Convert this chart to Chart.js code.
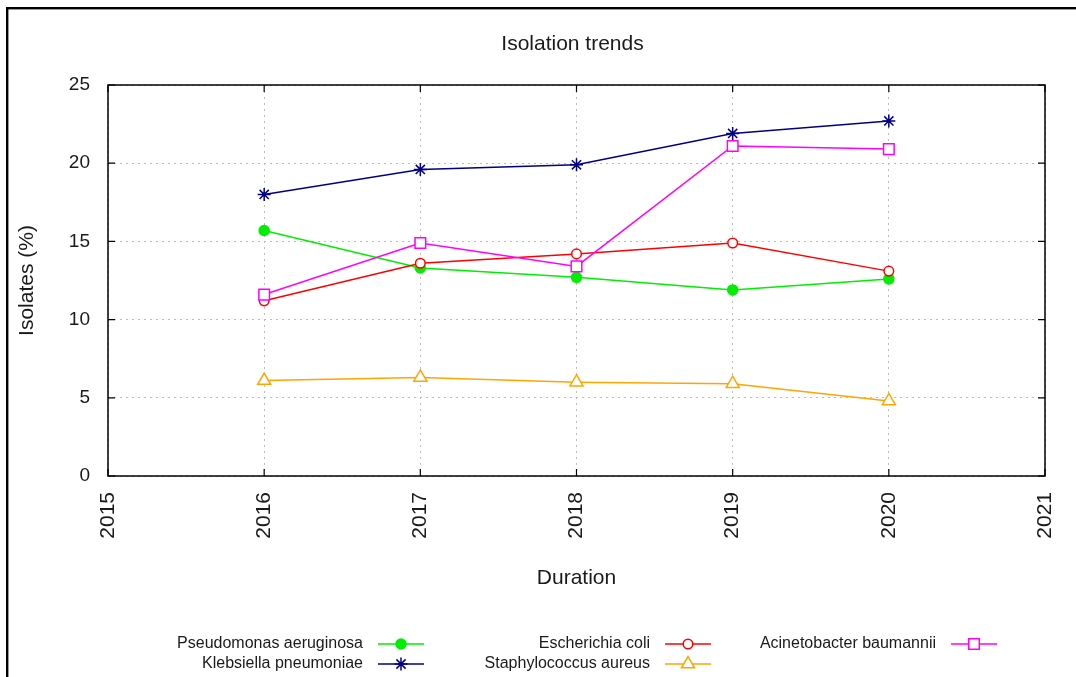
<!DOCTYPE html>
<html>
<head>
<meta charset="utf-8">
<script src="https://cdn.jsdelivr.net/npm/chart.js@4.4.1/dist/chart.umd.min.js"></script>
<style>
  html, body { margin: 0; padding: 0; background: #ffffff; }
  #wrap { position: relative; width: 1076px; height: 677px; }
  canvas { display: block; }
</style>
</head>
<body>
<div id="wrap"><canvas id="chart" width="1076" height="677"></canvas></div>
<script>
// Year axis (tick labels) and the years that carry measurements
const xTickLabels = ['2015', '2016', '2017', '2018', '2019', '2020', '2021'];
const years = ['2016', '2017', '2018', '2019', '2020'];

// Share of isolates (%) per organism and year
const pseudomonas = [15.7, 13.3, 12.7, 11.9, 12.6];
const klebsiella = [18.0, 19.6, 19.9, 21.9, 22.7];
const ecoli = [11.2, 13.6, 14.2, 14.9, 13.1];
const staphylococcus = [6.1, 6.3, 6.0, 5.9, 4.8];
const acinetobacter = [11.6, 14.9, 13.4, 21.1, 20.9];

const seriesNames = [
  'Pseudomonas aeruginosa',
  'Klebsiella pneumoniae',
  'Escherichia coli',
  'Staphylococcus aureus',
  'Acinetobacter baumannii'
];

const yMin = 0, yMax = 25, yStep = 5;
const FONT = '"Liberation Sans", Arial, sans-serif';
const TEXT = '#1a1a1a';

function points(values) {
  return values.map((v, i) => ({ x: years[i], y: v }));
}

function series(label, values, color, style, radius, fill, order) {
  return {
    label: label,
    data: points(values),
    borderColor: color,
    backgroundColor: color,
    borderWidth: 1.5,
    pointStyle: style,
    pointRadius: radius,
    pointHoverRadius: radius,
    pointBorderWidth: 1.5,
    pointBorderColor: color,
    pointBackgroundColor: fill,
    tension: 0,
    order: order
  };
}

const datasets = [
  series(seriesNames[0], pseudomonas, '#00ee00', 'circle', 5, '#00ee00', 5),
  series(seriesNames[1], klebsiella, '#000080', 'star', 6.5, '#000080', 4),
  series(seriesNames[2], ecoli, '#ff0000', 'circle', 4.8, '#ffffff', 3),
  series(seriesNames[3], staphylococcus, '#ffa500', 'triangle', 7.5, '#ffffff', 2),
  series(seriesNames[4], acinetobacter, '#ff00ff', 'rect', 7.5, '#ffffff', 1)
];

// Page frame, plot box with inward ticks, title and key
const decorations = {
  id: 'decorations',
  afterDraw(chart) {
    const ctx = chart.ctx;
    const area = chart.chartArea;
    const xs = chart.scales.x;
    const ys = chart.scales.y;

    ctx.save();
    // outer frame
    ctx.fillStyle = '#000000';
    ctx.fillRect(6, 7, 1070, 2.4);
    ctx.fillRect(6, 7, 2.4, 670);

    // plot box
    ctx.strokeStyle = '#000000';
    ctx.lineWidth = 1.5;
    ctx.strokeRect(area.left, area.top, area.right - area.left, area.bottom - area.top);

    // inward tick marks on all four sides
    const tick = 7;
    ctx.lineWidth = 1.2;
    ctx.beginPath();
    xTickLabels.forEach((lab, i) => {
      const px = xs.getPixelForValue(i);
      ctx.moveTo(px, area.bottom); ctx.lineTo(px, area.bottom - tick);
      ctx.moveTo(px, area.top); ctx.lineTo(px, area.top + tick);
    });
    for (let v = yMin; v <= yMax; v += yStep) {
      const py = ys.getPixelForValue(v);
      ctx.moveTo(area.left, py); ctx.lineTo(area.left + tick, py);
      ctx.moveTo(area.right, py); ctx.lineTo(area.right - tick, py);
    }
    ctx.stroke();

    // title
    ctx.fillStyle = TEXT;
    ctx.font = '21px ' + FONT;
    ctx.textAlign = 'center';
    ctx.textBaseline = 'middle';
    ctx.fillText('Isolation trends', (area.left + area.right) / 2 - 4, 44);

    // key: text right-aligned, then line sample with its marker
    const colRight = [363, 650, 936];
    const rowY = [644, 664];
    ctx.font = '16px ' + FONT;
    ctx.textAlign = 'right';
    chart.data.datasets.forEach((ds, i) => {
      const col = Math.floor(i / 2);
      const row = i % 2;
      const tx = colRight[col];
      const ty = rowY[row];
      ctx.fillStyle = TEXT;
      ctx.fillText(ds.label, tx, ty);
      const x0 = tx + 15, x1 = tx + 61;
      ctx.strokeStyle = ds.borderColor;
      ctx.lineWidth = ds.borderWidth;
      ctx.beginPath();
      ctx.moveTo(x0, ty); ctx.lineTo(x1, ty);
      ctx.stroke();
      ctx.fillStyle = ds.pointBackgroundColor;
      ctx.strokeStyle = ds.pointBorderColor;
      ctx.lineWidth = ds.pointBorderWidth;
      Chart.helpers.drawPoint(ctx, {
        pointStyle: ds.pointStyle,
        radius: ds.pointRadius,
        rotation: 0,
        borderWidth: ds.pointBorderWidth
      }, (x0 + x1) / 2, ty);
    });
    ctx.restore();
  }
};

new Chart(document.getElementById('chart'), {
  type: 'line',
  data: { labels: xTickLabels, datasets: datasets },
  options: {
    responsive: false,
    animation: false,
    devicePixelRatio: 1,
    layout: { padding: { top: 85, right: 31, bottom: 0, left: 0 } },
    plugins: {
      legend: { display: false },
      title: { display: false },
      tooltip: { enabled: false }
    },
    scales: {
      x: {
        type: 'category',
        labels: xTickLabels,
        offset: false,
        afterFit(scale) {
          scale.height = 201;
          scale.paddingLeft = 0;
          scale.paddingRight = 0;
        },
        border: { display: false, dash: [2, 4] },
        grid: { color: '#bdbdbd', lineWidth: 1, drawTicks: false },
        ticks: {
          autoSkip: false,
          minRotation: 90,
          maxRotation: 90,
          padding: 16,
          color: TEXT,
          font: { family: FONT, size: 21 }
        },
        title: {
          display: true,
          text: 'Duration',
          color: TEXT,
          font: { family: FONT, size: 21 },
          padding: { top: 0, bottom: 86 }
        }
      },
      y: {
        type: 'linear',
        min: yMin,
        max: yMax,
        afterFit(scale) { scale.width = 108; },
        border: { display: false, dash: [2, 4] },
        grid: { color: '#bdbdbd', lineWidth: 1, drawTicks: false },
        ticks: {
          stepSize: yStep,
          padding: 18,
          color: TEXT,
          font: { family: FONT, size: 19 }
        },
        title: {
          display: true,
          text: 'Isolates (%)',
          color: TEXT,
          font: { family: FONT, size: 21 },
          padding: { top: 15, bottom: 0 }
        }
      }
    }
  },
  plugins: [decorations]
});
</script>
</body>
</html>
